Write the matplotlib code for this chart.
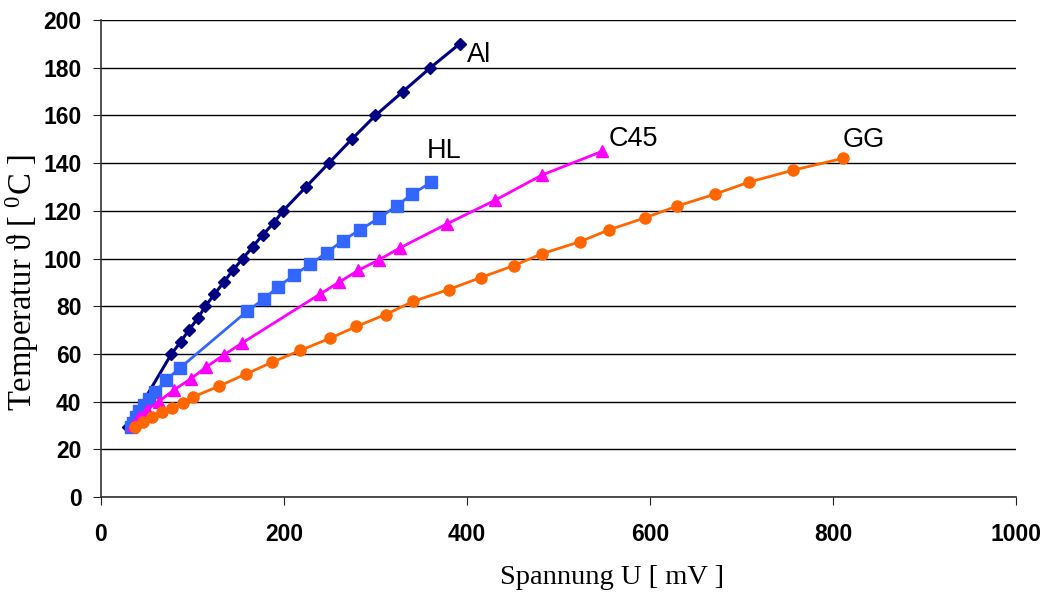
import numpy as np
import matplotlib.pyplot as plt

plt.rcParams['mathtext.fontset'] = 'custom'
plt.rcParams['mathtext.rm'] = 'Liberation Serif'

# Spannung U [mV] / Temperatur [degC]
al_u = [30, 77, 87, 96, 106, 114, 124, 134, 144, 155, 166, 177, 189, 199, 224, 249, 274, 300, 330, 360, 392]
al_t = [29.5, 60, 65, 70, 75, 80, 85, 90, 95, 100, 105, 110, 115, 120, 130, 140, 150, 160, 170, 180, 190]

hl_u = [33, 35, 38, 42, 47, 52, 59, 71, 86, 160, 178, 193, 211, 228, 247, 264, 283, 304, 323, 340, 361]
hl_t = [29.5, 31, 33.5, 36, 38.5, 41, 44, 49, 54, 78, 83, 88, 93, 97.5, 102.5, 107.5, 112, 117, 122, 127, 132]

c45_u = [35, 41, 50, 63, 80, 98, 115, 134, 154, 239, 260, 281, 304, 327, 378, 431, 482, 548]
c45_t = [30, 33.5, 36.5, 40, 45, 49.5, 54.5, 59.5, 64.5, 85, 90, 95, 99.5, 104.5, 114.5, 124.5, 135, 145]

gg_u = [37, 46, 56, 67, 78, 90, 101, 129, 158, 187, 218, 250, 279, 311, 341, 380, 415,
        451, 482, 523, 555, 594, 630, 671, 708, 756, 811]
gg_t = [29.5, 31.5, 33.5, 35.5, 37.5, 39.5, 42, 46.5, 51.5, 56.5, 61.5, 66.5, 71.5, 76.5, 82, 87, 92,
        97, 102, 107, 112, 117, 122, 127, 132, 137, 142]

fig = plt.figure(figsize=(10.53, 5.97), dpi=100)
ax = fig.add_axes([0.0959, 0.1675, 0.869, 0.799])

ax.plot(al_u, al_t, color='#000080', lw=2.2, marker='D', ms=6.5, zorder=3)
ax.plot(hl_u, hl_t, color='#3366FF', lw=2, marker='s', ms=8, zorder=4)
ax.plot(c45_u, c45_t, color='#FF00FF', lw=2, marker='^', ms=8.5, zorder=5)
ax.plot(gg_u, gg_t, color='#FF6600', lw=2, marker='o', ms=8, zorder=6)

lab = dict(fontsize=19.5, family='Liberation Sans', va='center', ha='left')
ax.text(400, 185.5, 'Al', **lab)
ax.text(356, 145, 'HL', **lab)
ax.text(555, 150, 'C45', **lab)
ax.text(810, 149.5, 'GG', **lab)

ax.set_xlim(0, 1000)
ax.set_ylim(0, 200)
ax.set_xticks(np.arange(0, 1001, 200))
ax.set_yticks(np.arange(0, 201, 20))
ax.yaxis.grid(True, color='black', lw=1)
ax.set_axisbelow(True)
for s in ['top', 'right']:
    ax.spines[s].set_visible(False)
for s in ['left', 'bottom']:
    ax.spines[s].set_color('#333333')
    ax.spines[s].set_linewidth(1.2)
ax.tick_params(direction='out', length=6, labelsize=16.5, colors='#222222', labelcolor='black')
ax.tick_params(axis='y', pad=8)
ax.tick_params(axis='x', pad=13)
for t in ax.get_xticklabels() + ax.get_yticklabels():
    t.set_family('Liberation Sans')
    t.set_fontweight('bold')

ax.set_xlabel('Spannung U [ mV ]', family='Liberation Serif', fontsize=20.5)
ax.xaxis.set_label_coords(0.558, -0.143)
ax.set_ylabel('Temperatur \u03d1 [ $\\mathregular{^0}$C ]', family='Liberation Serif', fontsize=23.5)
ax.yaxis.set_label_coords(-0.066, 0.449)

fig.savefig('out.png', dpi=100)
